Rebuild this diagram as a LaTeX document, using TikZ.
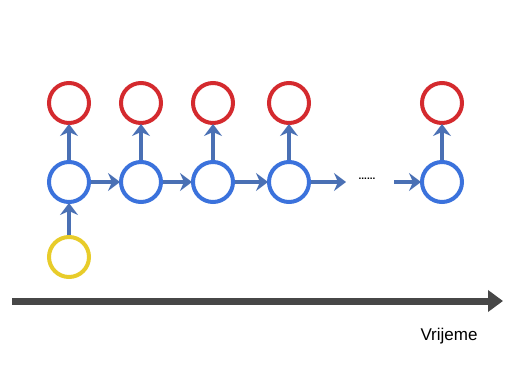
\documentclass[tikz,border=0pt]{standalone}
\usepackage{fontspec}
\setmainfont{Liberation Sans}
\usetikzlibrary{arrows.meta}
\definecolor{rnnred}{HTML}{D42A2E}
\definecolor{rnnblue}{HTML}{3B72DC}
\definecolor{rnnyellow}{HTML}{E8CC2A}
\definecolor{arrblue}{HTML}{4A70B4}
\definecolor{timegray}{HTML}{474747}
\begin{document}
\begin{tikzpicture}[x=1pt,y=-1pt,
  cell/.style={circle,draw,line width=4pt,minimum size=40pt,inner sep=0pt,fill=white},
  outc/.style={cell,draw=rnnred},
  hidc/.style={cell,draw=rnnblue},
  inc/.style={cell,draw=rnnyellow},
  link/.style={draw=arrblue,line width=4pt,-{Stealth[length=12pt,width=18pt,inset=4pt]},shorten >=-1pt},
  timeline/.style={draw=timegray,line width=7pt,-{Triangle[length=15pt,width=21pt]}}]
\useasboundingbox (0,0) rectangle (514,385);
\foreach \n/\x in {1/69,2/141,3/213,4/289,5/442}{
  \node[outc] (o\n) at (\x,103) {};
  \node[hidc] (h\n) at (\x,182) {};
}
\node[inc] (i1) at (69,257) {};
\coordinate (d1) at (345,182);
\coordinate (d2) at (394,182);
\node[inner sep=0pt,font=\bfseries] (dots) at (367,179) {......};
\foreach \n in {1,...,5}{ \draw[link] (h\n) -- (o\n); }
\draw[link] (i1) -- (h1);
\draw[link] (h1) -- (h2);
\draw[link] (h2) -- (h3);
\draw[link] (h3) -- (h4);
\draw[link] (h4) -- (d1);
\draw[link] (d2) -- (h5);
\coordinate (t0) at (12,301);
\coordinate (t1) at (503,301);
\draw[timeline] (t0) -- (t1);
\node[font=\fontsize{17}{19}\selectfont] (lbl) at (449,336) {Vrijeme};
\end{tikzpicture}
\end{document}
